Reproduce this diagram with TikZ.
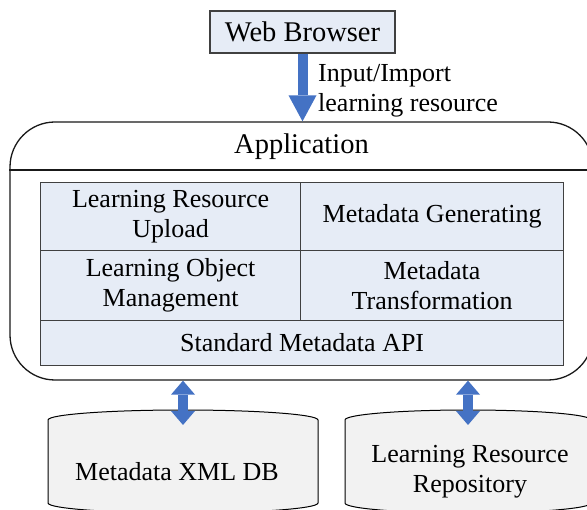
\documentclass[tikz,border=0pt]{standalone}
\usepackage{fontspec}
\setmainfont{Liberation Serif}
\newfontfamily\lserif{Liberation Serif}
\usetikzlibrary{arrows.meta,calc}
\definecolor{cellblue}{HTML}{E6ECF6}
\definecolor{arrowblue}{HTML}{4472C4}
\definecolor{cellline}{HTML}{404040}
\definecolor{cylfill}{HTML}{F2F2F2}
\tikzset{
 body/.style={font=\lserif\fontsize{26}{30}\selectfont},
 headtext/.style={font=\lserif\fontsize{28.5}{32}\selectfont},
 cell/.style={draw=cellline, fill=cellblue, line width=1.2pt, body, align=center, anchor=north west, inner sep=0pt},
 bigarrow/.style={draw=arrowblue, line width=10pt, -{Triangle[width=28pt,length=26pt,line width=0pt]}},
 dblarrow/.style={draw=arrowblue, line width=10pt, {Triangle[width=24pt,length=14pt,line width=0pt]}-{Triangle[width=24pt,length=14pt,line width=0pt]}},
 cyl/.style={draw=black, fill=cylfill, line width=1pt},
}
\begin{document}
\begin{tikzpicture}[x=1pt,y=-1pt]
\useasboundingbox (0,0) rectangle (587,510);
\clip (0,0) rectangle (587,510);
% web browser
\node[draw=cellline, fill=cellblue, line width=1.2pt, headtext, minimum width=185pt, minimum height=42pt, inner sep=0pt] (wb) at (302.5,32) {Web Browser};
% application
\node[draw=black!90, line width=1.3pt, rounded corners=45pt, minimum width=583pt, minimum height=258pt, inner sep=0pt] (app) at (301.5,251) {};
\draw[black!90, line width=1.2pt] (app.west |- 0,170) -- (app.east |- 0,170);
\node[headtext] (apptitle) at (301.5,147) {Application};
% cells
\node[cell, minimum width=260pt, minimum height=68pt] (c11) at (40,182) {Learning Resource\\Upload};
\node[cell, minimum width=263pt, minimum height=68pt] (c12) at (300,182) {Metadata Generating};
\node[cell, minimum width=260pt, minimum height=70pt] (c21) at (40,250) {Learning Object\\Management};
\node[cell, minimum width=263pt, minimum height=70pt] (c22) at (300,250) {Metadata\\Transformation};
\node[cell, minimum width=523pt, minimum height=45pt] (api) at (40,320) {Standard Metadata API};
% input arrow
\draw[bigarrow] (wb.south) -- (wb.south |- app.north);
\node[body, align=left, anchor=west, inner sep=0pt] (inlabel) at (318,91) {Input/Import\\learning resource};
% cylinders
\path[cyl] (48,420) arc[start angle=180,end angle=360,x radius=135,y radius=10] -- (318,503) arc[start angle=0,end angle=180,x radius=135,y radius=10] -- cycle;
\path[cyl] (345,420) arc[start angle=180,end angle=360,x radius=123,y radius=10] -- (591,503) arc[start angle=0,end angle=180,x radius=123,y radius=10] -- cycle;
\node[body] (db1) at (177,472) {Metadata XML DB};
\node[body, align=center] (db2) at (470,472) {Learning Resource\\Repository};
\coordinate (db1top) at (183,425);
\coordinate (db2top) at (468,425);
\draw[dblarrow] (app.south -| db1top) -- (db1top);
\draw[dblarrow] (app.south -| db2top) -- (db2top);
\end{tikzpicture}
\end{document}
